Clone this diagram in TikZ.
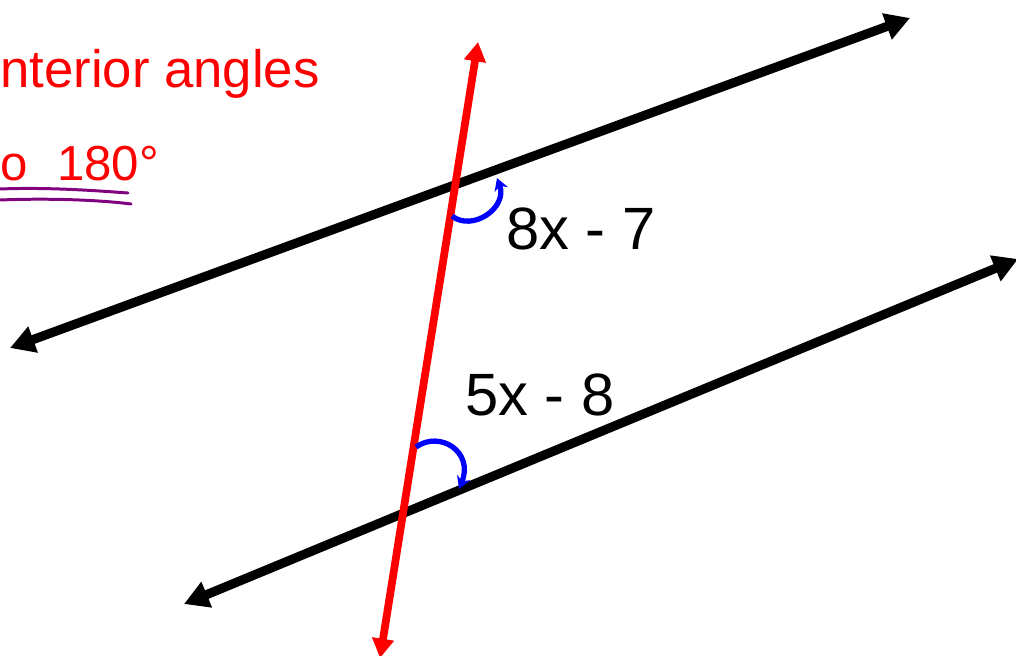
\documentclass[tikz,border=0pt]{standalone}
\usepackage{fontspec}
\setmainfont{Liberation Sans}
\usepackage{tikz}
\usetikzlibrary{arrows.meta}
\definecolor{penred}{HTML}{FF0000}
\definecolor{penblue}{HTML}{0000FF}
\definecolor{penpurple}{HTML}{800080}

\begin{document}
\begin{tikzpicture}[
    x=0.02cm, y=-0.02cm,
    parline/.style={{Triangle[length=14pt, width=15pt]}-{Triangle[length=14pt, width=15pt]},
        line width=5.2pt, black},
    transline/.style={{Triangle[length=11pt, width=12pt]}-{Triangle[length=11pt, width=12pt]},
        line width=4.4pt, penred},
    angarc/.style={-{Stealth[length=7pt, width=8pt]}, line width=3pt, penblue},
    lbl/.style={font=\fontsize{34pt}{40pt}\selectfont, inner sep=0pt},
    note/.style={font=\fontsize{30pt}{36pt}\selectfont, text=penred, inner sep=0pt, anchor=base west},
    uline/.style={line width=1.7pt, penpurple, line cap=round}
]
    \useasboundingbox (0,0) rectangle (1016,655);

    % line ends
    \coordinate (topL) at (10,348);
    \coordinate (topR) at (910,18);
    \coordinate (botL) at (184,604);
    \coordinate (botR) at (1018,259);
    \coordinate (trU) at (478,42);
    \coordinate (trD) at (380,658);

    % the two parallels and the transversal
    \draw[parline] (topL) -- (topR);
    \draw[parline] (botL) -- (botR);
    \draw[transline] (trD) -- (trU);

    % angle marks
    \coordinate (a1s) at (452,216);
    \coordinate (a1e) at (497,178);
    \coordinate (a2s) at (416,447);
    \coordinate (a2e) at (459,489);
    \draw[angarc] (a1s) .. controls (472,232) and (508,208) .. (a1e);
    \draw[angarc] (a2s) .. controls (440,430) and (474,452) .. (a2e);

    % labels
    \node[lbl] (ang1) at (581,229) {8x - 7};
    \node[lbl] (ang2) at (540,395) {5x - 8};

    % notes, top left
    \node[note] (rule1) at (0,88) {nterior angles};
    \node[note, font=\fontsize{28pt}{34pt}\selectfont] (rule2) at (0,180) {o\hspace{0.6em}180°};
    \draw[uline] (0,189) .. controls (50,187) and (100,191) .. (128,193);
    \draw[uline] (0,200) .. controls (50,198) and (100,200) .. (131,204);
\end{tikzpicture}
\end{document}
